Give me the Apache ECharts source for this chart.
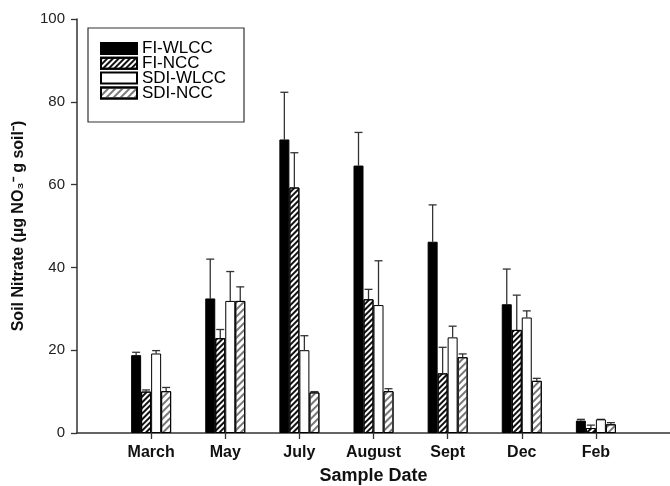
<!DOCTYPE html>
<html>
<head>
<meta charset="utf-8">
<script src="https://cdn.jsdelivr.net/npm/echarts@6/dist/echarts.min.js"></script>
<style>
  html, body { margin: 0; padding: 0; background: #fff; }
  #chart { width: 670px; height: 486px; }
</style>
</head>
<body>
<div id="chart"></div>
<script>
// sample dates
const months = ['March', 'May', 'July', 'August', 'Sept', 'Dec', 'Feb']

// mean soil nitrate per treatment
const fiWlcc = [18.8, 32.5, 70.9, 64.6, 46.2, 31.1, 3.0]
const fiNcc = [10.0, 22.9, 59.3, 32.3, 14.4, 24.9, 1.2]
const sdiWlcc = [19.2, 31.9, 20.0, 30.9, 23.1, 27.9, 3.3]
const sdiNcc = [10.1, 31.9, 9.8, 10.1, 18.3, 12.6, 2.1]

// top of the error bar (mean + SE)
const fiWlccErr = [19.5, 42.0, 82.3, 72.6, 55.1, 39.6, 3.3]
const fiNccErr = [10.4, 25.0, 67.7, 34.7, 20.7, 33.3, 1.9]
const sdiWlccErr = [19.9, 39.0, 23.5, 41.6, 25.8, 29.5, 3.3]
const sdiNccErr = [11.0, 35.3, 10.0, 10.7, 19.1, 13.2, 2.5]

const yTicks = [0, 20, 40, 60, 80, 100]

const names = ['FI-WLCC', 'FI-NCC', 'SDI-WLCC', 'SDI-NCC']
const means = [fiWlcc, fiNcc, sdiWlcc, sdiNcc]
const errs = [fiWlccErr, fiNccErr, sdiWlccErr, sdiNccErr]

// pad the axis so the groups sit at 1..7 of an 8-wide axis
const axisCats = [''].concat(months, [''])
const pad = arr => ['-'].concat(arr, ['-'])

const BAR_W = 10
const FONT = 'Liberation Sans, Arial, sans-serif'

const styles = [
  { color: '#000', borderColor: '#000', borderWidth: 1 },
  {
    color: '#fff', borderColor: '#000', borderWidth: 1,
    decal: { symbol: 'rect', symbolSize: 1, dashArrayX: [1, 0], dashArrayY: [2, 2], rotation: -Math.PI / 4, color: '#111' }
  },
  { color: '#fff', borderColor: '#000', borderWidth: 1 },
  {
    color: '#fff', borderColor: '#000', borderWidth: 1,
    decal: { symbol: 'rect', symbolSize: 1, dashArrayX: [1, 0], dashArrayY: [1.5, 2.5], rotation: -Math.PI / 4, color: '#777' }
  }
]

const chart = echarts.init(document.getElementById('chart'))

const barSeries = names.map((name, i) => ({
  name: name,
  type: 'bar',
  barWidth: BAR_W,
  barGap: '0%',
  itemStyle: styles[i],
  emphasis: { disabled: true },
  data: pad(means[i]),
  z: 3
}))

const errSeries = names.map((name, i) => ({
  type: 'custom',
  name: name + ' err',
  silent: true,
  z: 2,
  data: months.map((m, j) => [j + 1, errs[i][j], means[i][j]]),
  renderItem: (params, api) => {
    const top = api.coord([api.value(0), api.value(1)])
    const base = api.coord([api.value(0), api.value(2)])
    const x = top[0] + (i - 1.5) * BAR_W
    const cap = 4
    const style = { stroke: '#333', lineWidth: 1.3 }
    return {
      type: 'group',
      children: [
        { type: 'line', shape: { x1: x, y1: base[1], x2: x, y2: top[1] }, style: style },
        { type: 'line', shape: { x1: x - cap, y1: top[1], x2: x + cap, y2: top[1] }, style: style }
      ]
    }
  }
}))

chart.setOption({
  animation: false,
  backgroundColor: '#fff',
  textStyle: { fontFamily: FONT },
  grid: { left: 77, right: 0, top: 19, bottom: 53, outerBoundsMode: 'none', containLabel: false },
  legend: {
    data: names,
    orient: 'vertical',
    left: 100,
    top: 40,
    padding: 0,
    icon: 'rect',
    itemWidth: 36,
    itemHeight: 11,
    itemGap: -2.2,
    selectedMode: false,
    textStyle: { fontSize: 17, color: '#000', fontFamily: FONT }
  },
  graphic: [
    {
      type: 'rect',
      shape: { x: 88, y: 28, width: 156, height: 94 },
      style: { fill: 'none', stroke: '#333', lineWidth: 1.2 },
      z: 10
    }
  ],
  xAxis: {
    type: 'category',
    data: axisCats,
    boundaryGap: false,
    name: 'Sample Date',
    nameLocation: 'middle',
    nameGap: 34,
    nameTextStyle: { fontSize: 18, fontWeight: 'bold', color: '#111', fontFamily: FONT },
    axisLine: { lineStyle: { color: '#333', width: 1.5 } },
    axisTick: {
      length: 6,
      interval: (idx, val) => val !== '',
      lineStyle: { color: '#333', width: 1.3 }
    },
    axisLabel: {
      interval: 0,
      margin: 12,
      fontSize: 16,
      fontWeight: 'bold',
      color: '#111',
      fontFamily: FONT
    },
    splitLine: { show: false }
  },
  yAxis: {
    type: 'value',
    min: yTicks[0],
    max: yTicks[yTicks.length - 1],
    interval: 20,
    name: 'Soil Nitrate (µg NO₃⁻ g soil⁻)',
    nameLocation: 'middle',
    nameGap: 50,
    nameTextStyle: { fontSize: 16, fontWeight: 'bold', color: '#111', fontFamily: FONT },
    axisLine: { show: true, lineStyle: { color: '#333', width: 1.5 } },
    axisTick: { show: true, length: 6, lineStyle: { color: '#333', width: 1.3 } },
    axisLabel: { fontSize: 15, color: '#222', margin: 12, fontFamily: FONT },
    splitLine: { show: false }
  },
  series: barSeries.concat(errSeries)
})
</script>
</body>
</html>
